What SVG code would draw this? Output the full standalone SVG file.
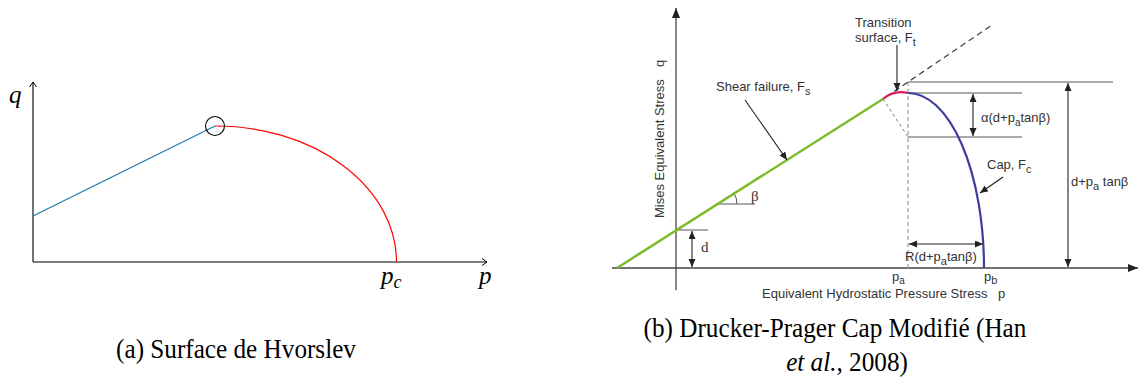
<svg xmlns="http://www.w3.org/2000/svg" width="1140" height="380" viewBox="0 0 1140 380">
<defs>
<marker id="chev" markerWidth="10" markerHeight="10" refX="6" refY="4" orient="auto" markerUnits="userSpaceOnUse"><path d="M1,0.5 L6,4 L1,7.5" fill="none" stroke="#000" stroke-width="1"/></marker>
<marker id="tri" markerWidth="12" markerHeight="10" refX="10" refY="4" orient="auto" markerUnits="userSpaceOnUse"><path d="M0,0 L10,4 L0,8 Z" fill="#222"/></marker>
<marker id="tris" markerWidth="12" markerHeight="10" refX="8" refY="3.5" orient="auto-start-reverse" markerUnits="userSpaceOnUse"><path d="M0,0 L8,3.5 L0,7 Z" fill="#222"/></marker>
</defs>
<style>
.ax{stroke:#000;stroke-width:1.1;fill:none}
.axb{stroke:#444;stroke-width:1.3;fill:none}
.gl{stroke:#555;stroke-width:1;fill:none}
.dim{stroke:#222;stroke-width:1.1;fill:none}
.lt{font-family:"Liberation Serif",serif;font-style:italic;font-size:25px;fill:#000}
.cap{font-family:"Liberation Serif",serif;font-size:28px;fill:#000;text-anchor:middle}
.st{font-family:"Liberation Sans",Arial,sans-serif;font-size:13px;fill:#333}
.gr{font-family:"Liberation Serif",serif;font-size:15px;fill:#333}
</style>

<g id="panel-a">
<line class="ax" x1="33" y1="262" x2="33" y2="82" marker-end="url(#chev)"/>
<line class="ax" x1="33" y1="262" x2="487" y2="262" marker-end="url(#chev)"/>
<line x1="33" y1="216" x2="215" y2="126" stroke="#1f77b4" stroke-width="1.2"/>
<path d="M215,126 A181,136 0 0 1 396.5,262" fill="none" stroke="#ff0000" stroke-width="1.2"/>
<circle cx="215" cy="126" r="9.5" fill="none" stroke="#000" stroke-width="1.1"/>
<text class="lt" x="9" y="103">q</text>
<text class="lt" x="381" y="284">p<tspan font-size="18" dy="4">c</tspan></text>
<text class="lt" x="479" y="284">p</text>
</g>

<g id="panel-b">
<line class="axb" x1="676" y1="290" x2="676" y2="8" marker-end="url(#tri)"/>
<line class="axb" x1="612" y1="268" x2="1138" y2="268" marker-end="url(#tri)"/>
<line x1="908" y1="82" x2="908" y2="268" stroke="#999" stroke-width="1.2" stroke-dasharray="4,3"/>
<line x1="886" y1="97" x2="992" y2="25" stroke="#444" stroke-width="1.3" stroke-dasharray="6,4"/>
<line x1="883" y1="99" x2="908" y2="137" stroke="#777" stroke-width="1" stroke-dasharray="3,3"/>
<line class="gl" x1="908" y1="82" x2="1113" y2="82"/>
<line class="gl" x1="908" y1="93" x2="1022" y2="93"/>
<line class="gl" x1="908" y1="137" x2="1022" y2="137"/>
<line class="gl" x1="676" y1="230" x2="708" y2="230"/>
<line class="gl" x1="716" y1="204" x2="755" y2="204"/>
<path d="M737,204 A21,21 0 0 0 733.7,192.6" class="gl"/>
<line x1="617" y1="268" x2="883" y2="99" stroke="#7cbb2a" stroke-width="2.5"/>
<path d="M883,99 C890,93 899,91 908,93" fill="none" stroke="#d81f5a" stroke-width="2.2"/>
<path d="M908,93 A76,175 0 0 1 984,268" fill="none" stroke="#3d3d9e" stroke-width="2.2"/>
</g>

<g id="connectors">
<line class="dim" x1="973" y1="94" x2="973" y2="136" marker-start="url(#tris)" marker-end="url(#tris)"/>
<line class="dim" x1="1068" y1="83" x2="1068" y2="267" marker-start="url(#tris)" marker-end="url(#tris)"/>
<line class="dim" x1="909" y1="244" x2="983" y2="244" marker-start="url(#tris)" marker-end="url(#tris)"/>
<line class="dim" x1="692" y1="231" x2="692" y2="267" marker-start="url(#tris)" marker-end="url(#tris)"/>
<line class="dim" x1="897" y1="45" x2="897" y2="91" marker-end="url(#tris)"/>
<line class="dim" x1="745" y1="100" x2="787" y2="160" marker-end="url(#tris)"/>
<line class="dim" x1="1003" y1="177" x2="980" y2="193" marker-end="url(#tris)"/>
</g>

<g id="labels-b">
<text class="st" x="855" y="27">Transition</text>
<text class="st" x="855" y="42">surface, F<tspan font-size="11" dy="4">t</tspan></text>
<text class="st" x="716" y="91">Shear failure, F<tspan font-size="11" dy="4">s</tspan></text>
<text class="st" x="981" y="122">α(d+p<tspan font-size="10" dy="4">a</tspan><tspan dy="-4">tanβ)</tspan></text>
<text class="st" x="987" y="169">Cap, F<tspan font-size="11" dy="4">c</tspan></text>
<text class="st" x="1071" y="186">d+p<tspan font-size="11" dy="4">a</tspan><tspan dy="-4"> tanβ</tspan></text>
<text class="st" x="905" y="261">R(d+p<tspan font-size="11" dy="4">a</tspan><tspan dy="-4">tanβ)</tspan></text>
<text class="gr" x="751" y="201">β</text>
<text class="gr" x="701" y="252">d</text>
<text class="st" x="892" y="281">p<tspan font-size="10" dy="3">a</tspan></text>
<text class="st" x="984" y="281">p<tspan font-size="11" dy="3">b</tspan></text>
<text class="st" x="762" y="298">Equivalent Hydrostatic Pressure Stress</text>
<text class="st" x="998" y="298">p</text>
<text class="st" transform="translate(664,218) rotate(-90)">Mises Equivalent Stress</text>
<text class="st" transform="translate(664,67) rotate(-90)">q</text>
</g>

<g id="captions">
<text class="cap" transform="translate(236,358) scale(0.9,1)">(a) Surface de Hvorslev</text>
<text class="cap" transform="translate(835,337) scale(0.9,1)">(b) Drucker-Prager Cap Modifié (Han</text>
<text class="cap" transform="translate(847,371) scale(0.9,1)"><tspan font-style="italic">et al.</tspan>, 2008)</text>
</g>
</svg>
